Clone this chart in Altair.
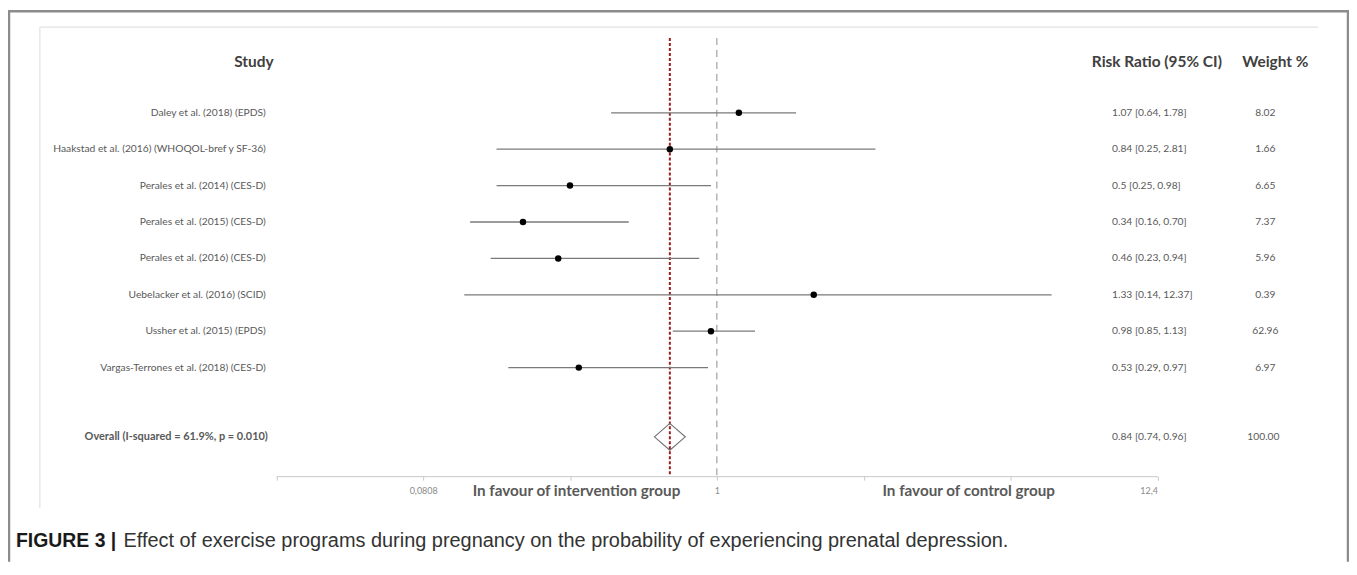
import altair as alt
import pandas as pd

# ---------------- data ----------------
studies = [
    "Daley et al. (2018) (EPDS)",
    "Haakstad et al. (2016)  (WHOQOL-bref y SF-36)",
    "Perales et al. (2014) (CES-D)",
    "Perales et al. (2015) (CES-D)",
    "Perales et al. (2016) (CES-D)",
    "Uebelacker et al. (2016) (SCID)",
    "Ussher et al. (2015) (EPDS)",
    "Vargas-Terrones et al. (2018) (CES-D)",
]
rows = [1, 2, 3, 4, 5, 6, 7, 8]
# point estimates and interval ends as drawn on the chart's axis
rr_drawn = [1.075, 0.84, 0.50, 0.34, 0.46, 1.33, 0.98, 0.53]
lo_drawn = [0.64, 0.25, 0.25, 0.16, 0.23, 0.14, 0.85, 0.29]
hi_drawn = [1.27, 1.54, 0.98, 0.70, 0.94, 2.14, 1.13, 0.97]
rr_labels = [
    "1.07 [0.64, 1.78]",
    "0.84 [0.25, 2.81]",
    "0.5 [0.25, 0.98]",
    "0.34 [0.16, 0.70]",
    "0.46 [0.23, 0.94]",
    "1.33 [0.14, 12.37]",
    "0.98 [0.85, 1.13]",
    "0.53 [0.29, 0.97]",
]
weights = ["8.02", "1.66", "6.65", "7.37", "5.96", "0.39", "62.96", "6.97"]

overall_label = ["Overall (I-squared = 61.9%, p = 0.010)"]
overall_rr = [0.84]
overall_text = ["0.84 [0.74, 0.96]"]
overall_weight = ["100.00"]
overall_row = [9.9]

null_value = [1]
tick_values = [-0.5, 0, 0.5, 1, 1.5, 2, 2.5]
tick_labels = ["", "0,0808", "", "1", "", "", "12,4"]

caption_bold = "FIGURE 3 |"
caption_text = "Effect of exercise programs during pregnancy on the probability of experiencing prenatal depression."

# ---------------- tables ----------------
df = pd.DataFrame({"study": studies, "row": rows, "rr": rr_drawn, "lo": lo_drawn,
                   "hi": hi_drawn, "rr_label": rr_labels, "weight": weights})
df_over = pd.DataFrame({"label": overall_label, "rr": overall_rr, "text": overall_text,
                        "weight": overall_weight, "row": overall_row})
df_null = pd.DataFrame({"x": null_value})

W, H = 1347, 469
FONT = "Lato"
TXT = "#595959"
FS = 10.3

label_expr = " : ".join(
    [f"datum.value == {v} ? '{l}'" for v, l in zip(tick_values, tick_labels) if l]
) + " : ''"

xscale = alt.Scale(domain=[-0.5, 2.5], range=[269.5, 1154.5], nice=False, zero=False)
xaxis = alt.Axis(values=tick_values, labelExpr=label_expr, title=None, grid=False,
                 domainColor="#c8c8c8", tickColor="#c8c8c8", tickSize=4,
                 labelFont=FONT, labelFontSize=9, labelColor="#8a8a8a", labelPadding=6)
yscale = alt.Scale(domain=[-1.844, 10.981], range=[0, H], nice=False, zero=False)


def X(field):
    return alt.X(field, type="quantitative", scale=xscale, axis=xaxis)


def Y(field):
    return alt.Y(field, type="quantitative", scale=yscale, axis=None)


base = alt.Chart(df)

# frames
frame_df = pd.DataFrame({"k": [0]})
fr = alt.Chart(frame_df)
outer_left = fr.mark_rule(color="#8c8c8c", strokeWidth=2.5).encode(
    x=alt.value(1), y=alt.value(1), y2=alt.value(H + 86))
outer_top = fr.mark_rule(color="#8c8c8c", strokeWidth=2.5).encode(
    x=alt.value(0), x2=alt.value(W), y=alt.value(2))
outer_right = fr.mark_rule(color="#8c8c8c", strokeWidth=2.5).encode(
    x=alt.value(W - 1), y=alt.value(1), y2=alt.value(H + 86))
inner_top = fr.mark_rule(color="#e2e2e2", strokeWidth=1.2).encode(
    x=alt.value(32), x2=alt.value(1316), y=alt.value(18))
inner_left = fr.mark_rule(color="#e2e2e2", strokeWidth=1.2).encode(
    x=alt.value(32), y=alt.value(18), y2=alt.value(501))

null_line = alt.Chart(df_null).mark_rule(color="#a8a8a8", strokeWidth=1.3, strokeDash=[7, 5]).encode(
    x=X("x"), y=alt.value(29), y2=alt.value(H))
pooled_line = alt.Chart(df_over).mark_rule(color="#9b1c1c", strokeWidth=2, strokeDash=[3, 2]).encode(
    x=X("rr"), y=alt.value(29), y2=alt.value(H))

ci = base.mark_rule(color="#7a7a7a", strokeWidth=1.3).encode(
    x=X("lo"), x2=alt.X2("hi"), y=Y("row"))
pts = base.mark_circle(size=42, color="black", opacity=1).encode(x=X("rr"), y=Y("row"))

diamond = alt.Chart(df_over).mark_point(
    shape="M -1 0 L 0 -0.87 L 1 0 L 0 0.87 Z", size=961, filled=False,
    color="#6e6e6e", strokeWidth=1.1, opacity=1).encode(x=X("rr"), y=Y("row"))

study_txt = base.mark_text(align="right", baseline="middle", font=FONT, fontSize=FS, color=TXT).encode(
    x=alt.value(259), y=Y("row"), text="study:N")
rr_txt = base.mark_text(align="left", baseline="middle", font=FONT, fontSize=FS, color=TXT).encode(
    x=alt.value(1109), y=Y("row"), text="rr_label:N")
w_txt = base.mark_text(align="center", baseline="middle", font=FONT, fontSize=FS, color=TXT).encode(
    x=alt.value(1263), y=Y("row"), text="weight:N")

ov = alt.Chart(df_over)
ov_label = ov.mark_text(align="right", baseline="middle", font=FONT, fontSize=11, fontWeight="bold", color=TXT).encode(
    x=alt.value(261), y=Y("row"), text="label:N")
ov_rr = ov.mark_text(align="left", baseline="middle", font=FONT, fontSize=FS, color=TXT).encode(
    x=alt.value(1109), y=Y("row"), text="text:N")
ov_w = ov.mark_text(align="center", baseline="middle", font=FONT, fontSize=FS, color=TXT).encode(
    x=alt.value(1261), y=Y("row"), text="weight:N")

head_df = pd.DataFrame({"t": ["Study", "Risk Ratio (95% CI)", "Weight %"],
                        "px": [247, 1154, 1273]})
headers = alt.Chart(head_df).mark_text(align="center", baseline="middle", font=FONT, fontSize=15.5,
                                       fontWeight="bold", color="#404040").encode(
    x=alt.X("px:Q", scale=None), y=alt.value(53), text="t:N")

fav_df = pd.DataFrame({"t": ["In favour of intervention group", "In favour of control group"],
                       "px": [571, 965]})
favour = alt.Chart(fav_df).mark_text(align="center", baseline="middle", font=FONT, fontSize=15.3,
                                     fontWeight="bold", color="#595959").encode(
    x=alt.X("px:Q", scale=None), y=alt.value(484), text="t:N")

cap1 = fr.mark_text(align="left", baseline="middle", font="Liberation Sans", fontSize=19.5,
                    fontWeight="bold", color="#1a1a1a").encode(
    x=alt.value(8), y=alt.value(534), text=alt.value(caption_bold))
cap2 = fr.mark_text(align="left", baseline="middle", font="Liberation Sans", fontSize=20,
                    color="#333333").encode(
    x=alt.value(116), y=alt.value(534), text=alt.value(caption_text))

chart = alt.layer(
    outer_left, outer_top, outer_right, inner_top, inner_left,
    null_line, pooled_line, ci, pts, diamond,
    study_txt, rr_txt, w_txt, ov_label, ov_rr, ov_w,
    headers, favour, cap1, cap2,
).properties(
    width=W, height=H,
    autosize=alt.AutoSizeParams(type="none"),
    padding={"left": 0, "top": 0, "right": 0, "bottom": 86},
).configure_view(stroke=None)

chart.save("out.html", embed_options={"renderer": "svg", "actions": False})
